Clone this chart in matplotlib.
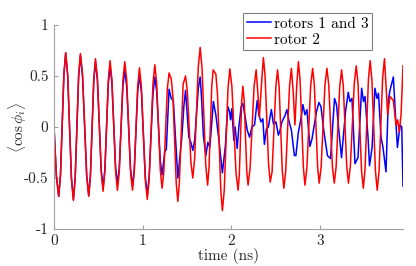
import matplotlib
matplotlib.use('Agg')
import matplotlib.pyplot as plt

plt.rcParams['font.family'] = 'cmr10'
plt.rcParams['mathtext.fontset'] = 'cm'
plt.rcParams['axes.unicode_minus'] = False

# red curve: rotor 2 (time in ns, <cos phi>)
t_rotor2 = [0, 0.027, 0.053, 0.073, 0.112, 0.132, 0.154, 0.197, 0.219, 0.239,
            0.278, 0.298, 0.322, 0.369, 0.392, 0.411, 0.449, 0.468, 0.490, 0.533,
            0.554, 0.574, 0.613, 0.633, 0.654, 0.695, 0.716, 0.737, 0.778, 0.799,
            0.821, 0.864, 0.886, 0.906, 0.945, 0.965, 0.987, 1.031, 1.053, 1.074,
            1.117, 1.138, 1.159, 1.200, 1.220, 1.240, 1.279, 1.299, 1.324, 1.343,
            1.380, 1.398, 1.415, 1.458, 1.485, 1.505, 1.546, 1.567, 1.588, 1.629,
            1.650, 1.671, 1.713, 1.734, 1.750, 1.781, 1.797, 1.827, 1.846, 1.883,
            1.901, 1.922, 1.964, 1.985, 2.008, 2.055, 2.078, 2.092, 2.119, 2.132,
            2.147, 2.176, 2.191, 2.214, 2.259, 2.282, 2.300, 2.319, 2.345, 2.364,
            2.383, 2.422, 2.441, 2.462, 2.505, 2.524, 2.542, 2.577, 2.595, 2.616,
            2.659, 2.680, 2.700, 2.720, 2.740, 2.759, 2.778, 2.815, 2.833, 2.855,
            2.898, 2.920, 2.939, 2.976, 2.994, 3.016, 3.059, 3.081, 3.102, 3.143,
            3.164, 3.185, 3.226, 3.247, 3.266, 3.305, 3.324, 3.346, 3.390, 3.412,
            3.432, 3.472, 3.492, 3.511, 3.550, 3.569, 3.589, 3.629, 3.649, 3.670,
            3.710, 3.731, 3.745, 3.767, 3.793, 3.831, 3.861, 3.880, 3.898, 3.918,
            3.940]
v_rotor2 = [0, -0.48, -0.68, -0.47, 0.52, 0.73, 0.52, -0.51, -0.72, -0.51,
            0.51, 0.72, 0.52, -0.48, -0.68, -0.48, 0.47, 0.67, 0.48, -0.44,
            -0.63, -0.44, 0.46, 0.65, 0.46, -0.43, -0.62, -0.44, 0.46, 0.64,
            0.46, -0.44, -0.62, -0.44, 0.40, 0.58, 0.39, -0.52, -0.71, -0.52,
            0.42, 0.61, 0.43, -0.42, -0.60, -0.44, 0.37, 0.53, 0.47, 0.29,
            -0.55, -0.73, -0.55, 0.42, 0.50, 0.35, -0.35, -0.50, -0.31, 0.59,
            0.78, 0.58, -0.37, -0.57, -0.40, 0.40, 0.56, 0.52, 0.32, -0.62,
            -0.82, -0.62, 0.37, 0.57, 0.40, -0.45, -0.62, -0.47, 0.25, 0.40,
            0.26, -0.43, -0.57, -0.40, 0.40, 0.56, 0.35, 0.10, 0.45, 0.68,
            0.50, -0.36, -0.54, -0.44, 0.40, 0.56, 0.39, -0.43, -0.60, -0.43,
            0.40, 0.575, 0.35, 0.02, 0.40, 0.64, 0.46, -0.39, -0.57, -0.40,
            0.41, 0.575, 0.41, -0.39, -0.55, -0.39, 0.41, 0.575, 0.41, -0.39,
            -0.55, -0.39, 0.40, 0.56, 0.40, -0.39, -0.55, -0.38, 0.43, 0.60,
            0.43, -0.43, -0.60, -0.42, 0.47, 0.65, 0.46, -0.43, -0.62, -0.43,
            0.48, 0.67, 0.45, 0.12, 0.30, 0.26, 0.02, 0.07, -0.05, 0.12,
            0.60]

# blue curve: rotors 1 and 3
t_rotor13 = [0, 0.027, 0.053, 0.073, 0.112, 0.132, 0.154, 0.197, 0.219, 0.239,
             0.278, 0.298, 0.322, 0.369, 0.392, 0.411, 0.449, 0.468, 0.490, 0.533,
             0.554, 0.574, 0.613, 0.633, 0.654, 0.695, 0.716, 0.737, 0.778, 0.799,
             0.821, 0.864, 0.886, 0.906, 0.945, 0.965, 0.987, 1.031, 1.053, 1.074,
             1.117, 1.138, 1.159, 1.200, 1.220, 1.251, 1.268, 1.285, 1.299, 1.324,
             1.347, 1.375, 1.398, 1.443, 1.466, 1.485, 1.522, 1.545, 1.567, 1.588,
             1.629, 1.650, 1.665, 1.686, 1.714, 1.737, 1.759, 1.782, 1.799, 1.827,
             1.861, 1.901, 1.935, 1.951, 1.963, 1.982, 1.993, 2.008, 2.030, 2.045,
             2.068, 2.087, 2.113, 2.132, 2.158, 2.181, 2.208, 2.234, 2.264, 2.294,
             2.313, 2.336, 2.358, 2.375, 2.398, 2.420, 2.454, 2.477, 2.506, 2.533,
             2.550, 2.573, 2.607, 2.629, 2.652, 2.680, 2.714, 2.731, 2.759, 2.788,
             2.810, 2.833, 2.855, 2.889, 2.912, 2.935, 2.963, 2.991, 3.014, 3.048,
             3.087, 3.122, 3.167, 3.189, 3.212, 3.246, 3.291, 3.322, 3.341, 3.364,
             3.398, 3.432, 3.473, 3.494, 3.511, 3.545, 3.562, 3.591, 3.623, 3.646,
             3.663, 3.692, 3.714, 3.748, 3.774, 3.793, 3.831, 3.851, 3.877, 3.907,
             3.926, 3.940]
v_rotor13 = [0, -0.48, -0.68, -0.48, 0.52, 0.72, 0.51, -0.50, -0.71, -0.50,
             0.49, 0.70, 0.50, -0.47, -0.67, -0.48, 0.45, 0.64, 0.46, -0.42,
             -0.60, -0.42, 0.42, 0.60, 0.43, -0.39, -0.56, -0.40, 0.40, 0.56,
             0.39, -0.41, -0.58, -0.42, 0.35, 0.51, 0.34, -0.49, -0.66, -0.49,
             0.32, 0.49, 0.35, -0.33, -0.47, -0.24, -0.22, 0.10, 0.37, 0.28,
             0.26, -0.15, -0.50, -0.10, 0.20, 0.36, -0.10, -0.15, -0.23, -0.13,
             0.38, 0.49, 0.30, -0.08, -0.28, -0.15, -0.20, 0.05, 0.25, 0.12,
             -0.12, -0.45, -0.18, 0.05, 0.20, 0.15, 0.07, 0.18, -0.13, 0.0,
             -0.21, 0.0, 0.20, 0.23, 0.10, -0.03, -0.10, 0.0, 0.02, 0.26,
             0.12, 0.05, 0.08, -0.17, -0.02, 0.0, 0.17, 0.03, 0.05, -0.08,
             -0.04, 0.05, 0.11, 0.17, 0.06, -0.03, -0.28, -0.28, -0.05, 0.08,
             0.22, 0.12, 0.17, -0.19, -0.12, 0.0, 0.15, 0.24, 0.20, -0.05,
             -0.28, -0.31, 0.28, 0.22, 0.0, -0.30, 0.15, 0.34, 0.25, 0.28,
             -0.36, -0.30, 0.38, 0.25, 0.30, -0.10, -0.38, -0.20, 0.38, 0.28,
             0.33, -0.10, -0.20, -0.44, 0.26, 0.36, 0.49, 0.17, -0.20, 0.02,
             0.0, -0.58]

x_ticks = [0, 1, 2, 3]
y_ticks = [-1, -0.5, 0, 0.5, 1]
y_tick_labels = ['-1', '-0.5', '0', '0.5', '1']

fig = plt.figure(figsize=(4.16, 2.66), dpi=100)
ax = fig.add_axes([54/416, 37/266, 349/416, 204/266])

ax.plot(t_rotor13, v_rotor13, color=(0, 0, 1), lw=1.1, label='rotors 1 and 3')
ax.plot(t_rotor2, v_rotor2, color=(1, 0, 0), lw=1.1, label='rotor 2')

ax.set_xlim(0, 3.94)
ax.set_ylim(-1, 1)
ax.set_xticks(x_ticks)
ax.set_xticklabels([str(x) for x in x_ticks])
ax.set_yticks(y_ticks)
ax.set_yticklabels(y_tick_labels)

for s in ['top', 'right']:
    ax.spines[s].set_visible(False)
for s in ['left', 'bottom']:
    ax.spines[s].set_color('#a0a0a0')
    ax.spines[s].set_linewidth(0.8)
ax.tick_params(direction='in', length=3, color='#a0a0a0', labelsize=11,
               labelcolor='#262626', pad=4)

ax.set_xlabel('time (ns)', fontsize=11, color='#262626', labelpad=0)
ax.set_ylabel(r'$\langle\cos\phi_i\rangle$', fontsize=11, color='#262626',
              labelpad=-4)

leg = fig.legend(loc='upper left', bbox_to_anchor=(243/416, 1 - 13/266),
                 borderaxespad=0, fontsize=11, handlelength=1.6,
                 handletextpad=0.15, borderpad=0.25, labelspacing=0.15,
                 fancybox=False, framealpha=1)
leg.get_frame().set_edgecolor('#808080')
leg.get_frame().set_linewidth(0.8)

plt.savefig('out.png', dpi=100)
